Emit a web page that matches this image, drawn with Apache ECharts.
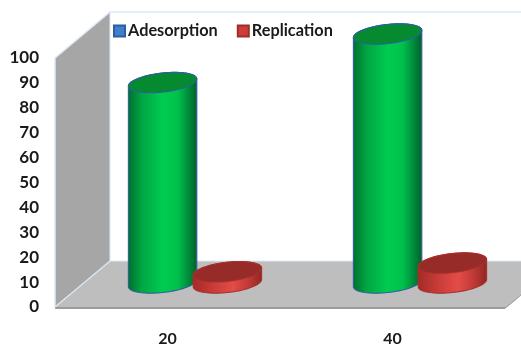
<!DOCTYPE html>
<html>
<head>
<meta charset="utf-8">
<style>html,body{margin:0;padding:0;background:#fff}#chart{width:521px;height:347px}</style>
<script src="https://cdn.jsdelivr.net/npm/echarts@6/dist/echarts.min.js"></script>
</head>
<body>
<div id="chart"></div>
<script>
// Chart data
const categories = ['20', '40'];
const adsorption = [80.5, 100];
const replication = [4.5, 8];
const seriesNames = ['Adesorption', 'Replication'];

// Pseudo-3D box: how far the back plane sits from the front plane, in px
const DEPTH_X = 55, DEPTH_Y = 46;
const FONT = 'Lato, sans-serif';

function ellipsePoint(cx, cy, rx, ry, tilt, t) {
  return [
    cx + rx * Math.cos(t) * Math.cos(tilt) + ry * Math.sin(t) * Math.sin(tilt),
    cy - rx * Math.cos(t) * Math.sin(tilt) + ry * Math.sin(t) * Math.cos(tilt)
  ];
}
function ellipseArc(cx, cy, rx, ry, tilt, from, to) {
  const pts = [];
  for (let i = 0; i <= 48; i++) pts.push(ellipsePoint(cx, cy, rx, ry, tilt, from + (to - from) * i / 48));
  return pts;
}
function hGradient(stops) {
  return new echarts.graphic.LinearGradient(0, 0, 1, 0, stops.map((c) => ({offset: c[0], color: c[1]})));
}

// Draws one cylinder standing on the middle of the floor
function cylinder(slot, look) {
  return function (params, api) {
    const band = api.size([1, 0])[0];
    const base = api.coord([api.value(0), 0]);
    const top = api.coord([api.value(0), api.value(1)]);
    const cx = base[0] + slot * band + DEPTH_X / 2;
    const rx = band * 0.153, ry = 9.5, tilt = 6.5 * Math.PI / 180;
    const by = base[1] - DEPTH_Y / 2 - 1, ty = top[1] - DEPTH_Y / 2 - 1;
    const t0 = Math.atan2(ry * Math.sin(tilt), rx * Math.cos(tilt));
    const body = ellipseArc(cx, by, rx, ry, tilt, t0, t0 + Math.PI)
      .concat(ellipseArc(cx, ty, rx, ry, tilt, t0 + Math.PI, t0 + 2 * Math.PI));
    const lid = ellipseArc(cx, ty, rx, ry, tilt, 0, 2 * Math.PI);
    return {
      type: 'group',
      children: [
        {type: 'polygon', shape: {points: body},
          style: {fill: hGradient(look.side), stroke: look.edge, lineWidth: 1.1}},
        {type: 'polygon', shape: {points: lid},
          style: {fill: look.lid, stroke: look.edge, lineWidth: 1.1}}
      ]
    };
  };
}

// Walls and floor of the box
function renderFrame(params, api) {
  const g = params.coordSys;
  const x0 = g.x, x1 = g.x + g.width, yTop = g.y, yBot = g.y + g.height;
  const dx = DEPTH_X, dy = DEPTH_Y;
  const edge = '#dbe9f7';
  return {
    type: 'group',
    children: [
      {type: 'polygon', shape: {points: [[x0, yTop], [x0 + dx, yTop - dy], [x0 + dx, yBot - dy], [x0, yBot]]},
        style: {fill: '#a6a6a6'}},
      {type: 'polygon', shape: {points: [[x0, yBot], [x0 + dx, yBot - dy], [x1 + dx, yBot - dy], [x1, yBot]]},
        style: {fill: '#bebebe'}},
      {type: 'line', shape: {x1: x0, y1: yBot + 1, x2: x1, y2: yBot + 1},
        style: {stroke: '#9c9c9c', lineWidth: 2}},
      {type: 'line', shape: {x1: x1, y1: yBot + 1, x2: x1 + dx, y2: yBot - dy + 1},
        style: {stroke: '#9c9c9c', lineWidth: 1.5}},
      {type: 'polyline', shape: {points: [[x0, yBot], [x0, yTop], [x0 + dx, yTop - dy], [x1 + dx, yTop - dy]]},
        style: {fill: 'none', stroke: edge, lineWidth: 1.5}},
      {type: 'polyline', shape: {points: [[x0 + dx, yTop - dy], [x0 + dx, yBot - dy], [x1 + dx, yBot - dy]]},
        style: {fill: 'none', stroke: edge, lineWidth: 1}},
      {type: 'line', shape: {x1: x0, y1: yBot, x2: x0 + dx, y2: yBot - dy},
        style: {stroke: edge, lineWidth: 1.2}}
    ]
  };
}

const greenLook = {
  side: [[0, '#006e2e'], [0.2, '#00a644'], [0.5, '#00cc50'], [0.72, '#00c04c'], [1, '#005f2a']],
  lid: '#068a30',
  edge: '#2d5f9e'
};
const redLook = {
  side: [[0, '#a32a27'], [0.3, '#c93c38'], [0.58, '#e34c48'], [0.8, '#c03a36'], [1, '#8f2623']],
  lid: '#962b27',
  edge: '#a8302c'
};

const chart = echarts.init(document.getElementById('chart'), null, {renderer: 'canvas'});
chart.setOption({
  animation: false,
  backgroundColor: '#ffffff',
  grid: {left: 55, top: 58, width: 450, height: 249, outerBoundsMode: 'none'},
  legend: {
    left: 108, top: 18, itemWidth: 11, itemHeight: 11, itemGap: 19,
    icon: 'rect', selectedMode: false,
    data: seriesNames,
    textStyle: {fontFamily: FONT, fontSize: 16.3, fontWeight: 700, color: '#1a1a1a', padding: [0, 0, 0, -2]}
  },
  xAxis: {
    type: 'category', data: categories,
    axisLine: {show: false}, axisTick: {show: false}, splitLine: {show: false},
    axisLabel: {fontFamily: FONT, fontSize: 16, fontWeight: 700, color: '#1a1a1a', margin: 24}
  },
  yAxis: {
    type: 'value', min: 0, max: 100, interval: 10,
    axisLine: {show: false}, axisTick: {show: false}, splitLine: {show: false},
    axisLabel: {fontFamily: FONT, fontSize: 17, fontWeight: 700, color: '#1a1a1a', margin: 16, padding: [2, 0, 0, 0]}
  },
  series: [
    {name: 'box', type: 'custom', silent: true, clip: false, z: 1,
      renderItem: renderFrame, data: [[0, 0]], encode: {x: 0, y: 1}},
    {name: seriesNames[0], type: 'custom', clip: false, z: 2,
      renderItem: cylinder(-0.144, greenLook),
      itemStyle: {color: '#3f7fcb', borderColor: '#2d5f9e', borderWidth: 1},
      data: adsorption.map((v, i) => [i, v]), encode: {x: 0, y: 1}},
    {name: seriesNames[1], type: 'custom', clip: false, z: 3,
      renderItem: cylinder(0.144, redLook),
      itemStyle: {color: '#cf3d3a', borderColor: '#9c2f2c', borderWidth: 1},
      data: replication.map((v, i) => [i, v]), encode: {x: 0, y: 1}}
  ]
});
</script>
</body>
</html>
